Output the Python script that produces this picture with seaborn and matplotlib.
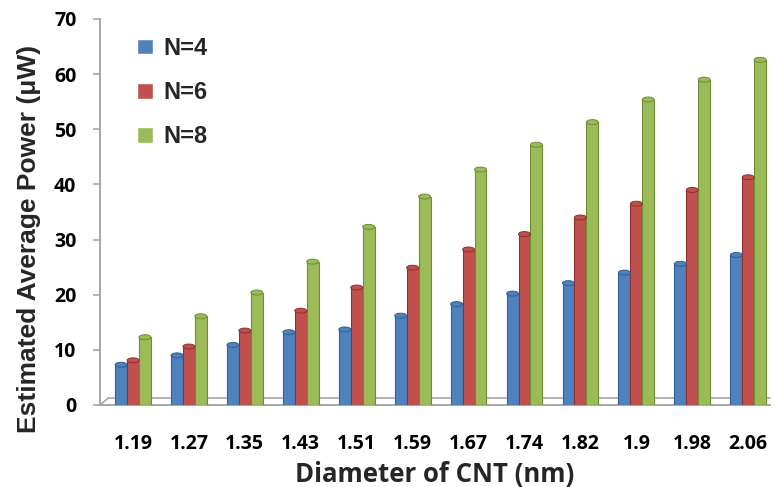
import numpy as np
import pandas as pd
import matplotlib
matplotlib.use("Agg")
import matplotlib.pyplot as plt
from matplotlib.font_manager import FontProperties
import seaborn as sns

# CNT diameters (nm) and estimated average power (uW) for each N
diameters = ["1.19", "1.27", "1.35", "1.43", "1.51", "1.59",
             "1.67", "1.74", "1.82", "1.9", "1.98", "2.06"]
power_n4 = [7.3, 9.0, 10.9, 13.2, 13.7, 16.2, 18.3, 20.2, 22.1, 24.0, 25.6, 27.2]
power_n6 = [8.1, 10.6, 13.5, 17.1, 21.3, 24.9, 28.2, 31.0, 34.0, 36.5, 39.0, 41.3]
power_n8 = [12.3, 16.1, 20.4, 26.0, 32.3, 37.8, 42.7, 47.2, 51.3, 55.4, 59.0, 62.6]
series_names = ["N=4", "N=6", "N=8"]
colors = ["#4F81BD", "#C0504D", "#9BBB59"]
edge_colors = ["#2F5F93", "#8E302D", "#6E8C35"]

df = pd.DataFrame({
    "Diameter": diameters * 3,
    "Power": power_n4 + power_n6 + power_n8,
    "N": [n for n in series_names for _ in diameters],
})

sns.set_theme(style="white")
plt.rcParams["font.family"] = ["Open Sans", "DejaVu Sans"]
arial_like = ["Liberation Sans", "DejaVu Sans"]

fig = plt.figure(figsize=(7.74, 4.87), dpi=100)
ax = fig.add_axes([100 / 774, 1 - 405 / 487, 670 / 774, 386 / 487])

sns.barplot(data=df, x="Diameter", y="Power", hue="N", palette=colors,
            width=0.64, dodge=True, saturation=1, ax=ax, zorder=3)

# darker outline on each bar, plus a small elliptical cap for a cylinder look
for container, ec, fc in zip(ax.containers, edge_colors, colors):
    for bar in container:
        bar.set_edgecolor(ec)
        bar.set_linewidth(0.8)
        x0, w, h = bar.get_x(), bar.get_width(), bar.get_height()
        cap = matplotlib.patches.Ellipse((x0 + w / 2, h), w, 0.9,
                                         facecolor=fc, edgecolor=ec,
                                         linewidth=0.7, zorder=4)
        ax.add_patch(cap)

xmin, xmax = -0.59, 11.39
ax.set_xlim(xmin, xmax)
ax.set_ylim(0, 70)
ax.set_yticks(np.arange(0, 71, 10))

# floor of the chart drawn in light gray
floor_c = "#A6A6A6"
ax.plot([xmin, xmin + 0.14], [0, 1.2], color=floor_c, lw=1.2, clip_on=False, zorder=2)
ax.plot([xmin + 0.14, xmax], [1.2, 1.2], color=floor_c, lw=1.2, clip_on=False, zorder=2)

for side in ["top", "right"]:
    ax.spines[side].set_visible(False)
for side in ["left", "bottom"]:
    ax.spines[side].set_color(floor_c)
    ax.spines[side].set_linewidth(1.4)

ax.tick_params(axis="y", which="both", left=True, length=5, width=1.2,
               color=floor_c, pad=12, labelsize=14)
ax.tick_params(axis="x", bottom=False, pad=15, labelsize=14)
for lbl in ax.get_xticklabels() + ax.get_yticklabels():
    lbl.set_fontweight("bold")
    lbl.set_color("black")

ax.set_xlabel("Diameter of CNT (nm)", fontsize=18.5, fontweight="bold", labelpad=5)

ylabel_font = FontProperties(family=arial_like, weight="bold", size=19)
ax.set_ylabel("Estimated Average Power (\u03bcW)", fontproperties=ylabel_font)
ax.yaxis.set_label_coords(-0.088, 0.43)

leg = ax.legend(loc="upper left", bbox_to_anchor=(0.024, 1.009), frameon=False,
                prop={"family": arial_like, "weight": "bold", "size": 17},
                handlelength=0.65, handleheight=0.65,
                labelspacing=0.9, handletextpad=0.45)

fig.savefig("out.png", dpi=100)
